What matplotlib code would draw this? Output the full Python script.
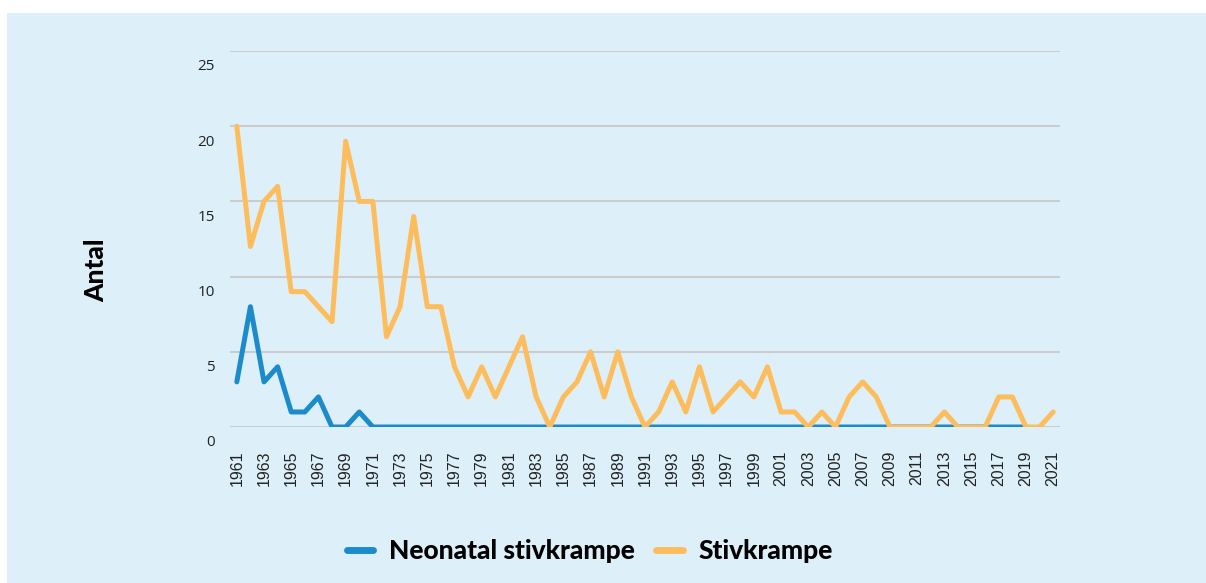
import matplotlib
matplotlib.use("Agg")
import matplotlib.pyplot as plt
import matplotlib.transforms as mtrans
from matplotlib.patches import Rectangle

years = list(range(1961, 2022))
years_neonatal = list(range(1961, 2020))

stivkrampe = [
    20, 12, 15, 16, 9, 9, 8, 7, 19, 15,
    15, 6, 8, 14, 8, 8, 4, 2, 4, 2,
    4, 6, 2, 0, 2, 3, 5, 2, 5, 2,
    0, 1, 3, 1, 4, 1, 2, 3, 2, 4,
    1, 1, 0, 1, 0, 2, 3, 2, 0, 0,
    0, 0, 1, 0, 0, 0, 2, 2, 0, 0,
    1,
]
neonatal = [3, 8, 3, 4, 1, 1, 2, 0, 0, 1] + [0] * 49

blue = "#1b8bcb"
orange = "#fdbd5d"
bg = "#ddf0f9"

fig = plt.figure(figsize=(12.06, 5.83), dpi=100)
fig.patch.set_facecolor("white")
fig.patches.append(Rectangle((7 / 1206, 0), 1 - 7 / 1206, 1 - 13 / 583,
                             transform=fig.transFigure, facecolor=bg,
                             edgecolor="none", zorder=-10))

ax = fig.add_axes([230 / 1206, 1 - 427 / 583, 830 / 1206, 376 / 583])
ax.set_facecolor("none")

ax.plot(years_neonatal, neonatal, color=blue, lw=3.6,
        solid_joinstyle="round", solid_capstyle="round",
        label="Neonatal stivkrampe", zorder=3)
ax.plot(years, stivkrampe, color=orange, lw=3.6,
        solid_joinstyle="round", solid_capstyle="round",
        label="Stivkrampe", zorder=4)

ax.set_xlim(1960.5, 2021.5)
ax.set_ylim(0, 25)
ax.set_yticks(range(0, 26, 5))
ax.set_xticks(years[::2])
ax.set_xticklabels([str(y) for y in years[::2]], rotation=90,
                   fontsize=11.5, family="Liberation Sans", color="#222222")
ax.grid(axis="y", color="#cccccc", lw=1.5)
ax.set_axisbelow(True)
for s in ax.spines.values():
    s.set_visible(False)
ax.tick_params(axis="both", length=0)
ax.tick_params(axis="x", pad=17)
ax.tick_params(axis="y", pad=11, labelsize=11, labelcolor="#222222")

offset = mtrans.ScaledTranslation(0, -14 / 100, fig.dpi_scale_trans)
for lbl in ax.get_yticklabels():
    lbl.set_transform(lbl.get_transform() + offset)
    lbl.set_family("Open Sans")

fig.text(96 / 1206, 1 - 270 / 583, "Antal", rotation=90, ha="center",
         va="center", fontsize=19, fontweight="black", family="Lato")

leg = fig.legend(loc="center", bbox_to_anchor=(590 / 1206, 1 - 551 / 583),
                 ncol=2, frameon=False, handlelength=1.0, columnspacing=0.8,
                 handletextpad=0.6,
                 prop={"family": "Lato", "weight": "black", "size": 19})
for line in leg.get_lines():
    line.set_linewidth(5)
    line.set_solid_capstyle("round")

fig.savefig("out.png", dpi=100, facecolor=fig.get_facecolor())
